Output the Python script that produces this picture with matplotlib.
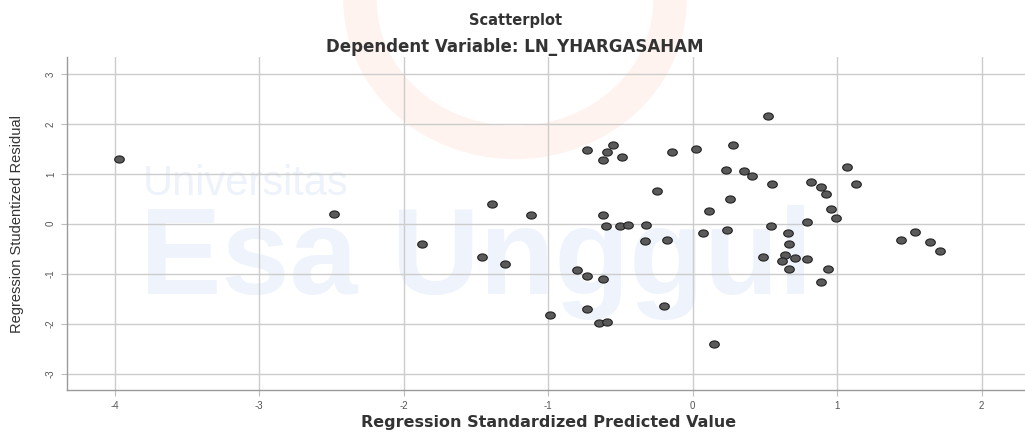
import matplotlib
matplotlib.use("Agg")
import matplotlib.pyplot as plt
from matplotlib.path import Path
from matplotlib.patches import Ellipse
import numpy as np

# ---- data ----
pred = [-3.97, -2.48, -1.87, -1.39, -1.46, -1.30, -1.12, -0.99, -0.80, -0.73,
        -0.62, -0.73, -0.65, -0.59, -0.20, 0.15, -0.73, -0.55, -0.59, -0.62,
        -0.49, -0.145, 0.025, 0.28, 0.52, 0.23, 0.355, 0.41, 0.55, -0.25,
        0.26, 0.11, -0.62, -0.60, -0.50, -0.45, -0.32, 0.07, 0.24, 0.54,
        -0.33, -0.18, 0.66, 0.67, 0.49, 0.64, 0.62, 0.71, 0.67, 0.79,
        0.94, 0.89, 1.07, 1.13, 0.82, 0.89, 0.92, 0.96, 0.99, 0.79,
        1.44, 1.54, 1.64, 1.71]
resid = [1.30, 0.20, -0.41, 0.39, -0.67, -0.81, 0.17, -1.83, -0.93, -1.04,
         -1.11, -1.71, -1.99, -1.96, -1.64, -2.40, 1.48, 1.58, 1.43, 1.27,
         1.34, 1.43, 1.49, 1.57, 2.16, 1.07, 1.06, 0.95, 0.80, 0.65,
         0.50, 0.26, 0.18, -0.04, -0.05, -0.03, -0.02, -0.19, -0.12, -0.04,
         -0.35, -0.33, -0.18, -0.41, -0.66, -0.63, -0.74, -0.68, -0.90, -0.71,
         -0.90, -1.16, 1.13, 0.80, 0.83, 0.74, 0.59, 0.29, 0.12, 0.03,
         -0.33, -0.17, -0.37, -0.55]
xticks = [-4, -3, -2, -1, 0, 1, 2]
yticks = [-3, -2, -1, 0, 1, 2, 3]
title1 = "Scatterplot"
title2 = "Dependent Variable: LN_YHARGASAHAM"
xlabel = "Regression Standardized Predicted Value"
ylabel = "Regression Studentized Residual"

plt.rcParams['font.family'] = ['Liberation Sans', 'DejaVu Sans']

W, H = 1025, 441
fig = plt.figure(figsize=(W / 100, H / 100), dpi=100)
fig.patch.set_facecolor('white')

# background layer with faint watermark
bg = fig.add_axes([0, 0, 1, 1], zorder=-1)
bg.set_xlim(0, W)
bg.set_ylim(H, 0)
bg.axis('off')
bg.add_patch(Ellipse((515, 0), 310, 285, fill=False, lw=24,
                     edgecolor='#fef3ee'))
bg.text(143, 184, "Universitas", fontsize=30, color='#edf2fb',
        ha='left', va='center', fontweight='light')
bg.text(140, 262, "Esa Unggul", fontsize=88, color='#eff4fc',
        ha='left', va='center', fontweight='bold')

ax = fig.add_axes([67 / W, 1 - 390 / H, 1 - 67 / W, (390 - 57) / H], zorder=1)
ax.set_facecolor('none')
ax.set_xlim(-4.33, 2.30)
ax.set_ylim(-3.33, 3.34)

# ellipse marker
t = np.linspace(0, 2 * np.pi, 40)
verts = np.column_stack([1.35 * np.cos(t), np.sin(t)])
ell = Path(verts, closed=True)
ax.scatter(pred, resid, marker=ell, s=48, facecolor='#5a5a5a',
           edgecolor='#222222', linewidths=0.8, zorder=3)

ax.set_xticks(xticks)
ax.set_yticks(yticks)
ax.set_xticklabels([str(v) for v in xticks])
ax.set_yticklabels([str(v) for v in yticks], rotation=90, va='center')
ax.grid(True, color='#cccccc', lw=1.0, zorder=1)
ax.set_axisbelow(True)
for s in ['top', 'right']:
    ax.spines[s].set_visible(False)
for s in ['left', 'bottom']:
    ax.spines[s].set_color('#9a9a9a')
    ax.spines[s].set_linewidth(1.0)
ax.tick_params(axis='both', length=4, color='#bdbdbd', labelsize=7,
               labelcolor='#555555', pad=4)

fig.text(516 / W, 1 - 20 / H, title1, ha='center', va='center', fontsize=10.5,
         fontweight='bold', color='#333333', family='DejaVu Sans')
fig.text(515 / W, 1 - 47 / H, title2, ha='center', va='center', fontsize=12,
         fontweight='bold', color='#333333', family='DejaVu Sans')
fig.text(549 / W, 1 - 422 / H, xlabel, ha='center', va='center', fontsize=11.5,
         fontweight='bold', color='#333333', family='DejaVu Sans')
fig.text(17 / W, 1 - 224 / H, ylabel, ha='center', va='center', fontsize=10.5,
         rotation=90, color='#333333')

fig.savefig('out.png', dpi=100)
